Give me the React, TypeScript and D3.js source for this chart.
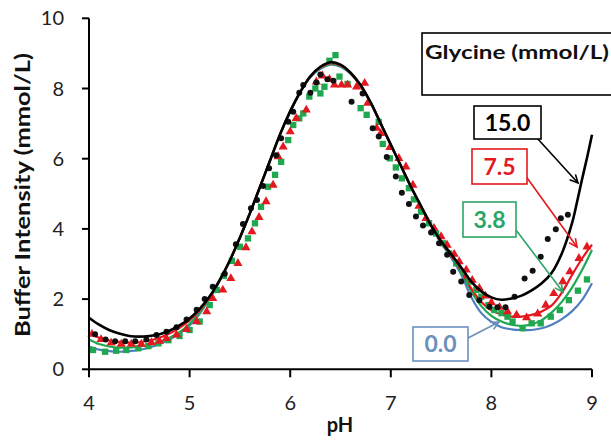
import React from "react";
import * as d3 from "d3";

// ---------- data ----------
const xTicks = [4, 5, 6, 7, 8, 9];
const yTicks = [0, 2, 4, 6, 8, 10];

// fitted curves [pH, buffer intensity]
const line150: [number, number][] = [
  [4.0, 1.47], [4.1, 1.27], [4.2, 1.12], [4.3, 1.02], [4.4, 0.95], [4.5, 0.93], [4.6, 0.95], [4.7, 1.0],
  [4.8, 1.1], [4.9, 1.25], [5.0, 1.45], [5.1, 1.72], [5.2, 2.08], [5.3, 2.55], [5.4, 3.1], [5.5, 3.75],
  [5.6, 4.45], [5.7, 5.2], [5.8, 5.95], [5.9, 6.7], [6.0, 7.35], [6.1, 7.9], [6.2, 8.35], [6.3, 8.62],
  [6.4, 8.75], [6.5, 8.68], [6.6, 8.45], [6.7, 8.1], [6.8, 7.6], [6.9, 7.0], [7.0, 6.4], [7.1, 5.8],
  [7.2, 5.2], [7.3, 4.65], [7.4, 4.1], [7.5, 3.65], [7.6, 3.28], [7.7, 2.9], [7.8, 2.5], [7.9, 2.22],
  [8.0, 2.05], [8.1, 1.98], [8.2, 2.02], [8.3, 2.1], [8.4, 2.25], [8.5, 2.45], [8.6, 2.75], [8.7, 3.3],
  [8.8, 4.15], [8.85, 4.75], [8.9, 5.4], [8.95, 6.02], [9.0, 6.68],
];
const line75: [number, number][] = [
  [4.0, 1.03], [4.1, 0.9], [4.2, 0.82], [4.3, 0.78], [4.4, 0.76], [4.5, 0.77], [4.6, 0.82], [4.7, 0.9],
  [4.8, 1.02], [4.9, 1.18], [5.0, 1.4], [5.1, 1.68], [5.2, 2.06], [5.3, 2.54], [5.4, 3.1], [5.5, 3.75],
  [5.6, 4.45], [5.7, 5.2], [5.8, 5.95], [5.9, 6.7], [6.0, 7.35], [6.1, 7.9], [6.2, 8.34], [6.3, 8.6],
  [6.4, 8.72], [6.5, 8.66], [6.6, 8.44], [6.7, 8.08], [6.8, 7.6], [6.9, 7.0], [7.0, 6.4], [7.1, 5.8],
  [7.2, 5.2], [7.3, 4.65], [7.4, 4.1], [7.5, 3.63], [7.6, 3.24], [7.7, 2.82], [7.8, 2.3], [7.9, 1.92],
  [8.0, 1.68], [8.1, 1.56], [8.2, 1.5], [8.3, 1.5], [8.4, 1.55], [8.5, 1.65], [8.6, 1.82], [8.7, 2.18],
  [8.8, 2.68], [8.9, 3.15], [9.0, 3.55],
];
const line38: [number, number][] = [
  [4.0, 0.85], [4.1, 0.72], [4.2, 0.65], [4.3, 0.62], [4.4, 0.62], [4.5, 0.65], [4.6, 0.7], [4.7, 0.78],
  [4.8, 0.9], [4.9, 1.06], [5.0, 1.3], [5.1, 1.62], [5.2, 2.04], [5.3, 2.53], [5.4, 3.1], [5.5, 3.75],
  [5.6, 4.45], [5.7, 5.2], [5.8, 5.95], [5.9, 6.7], [6.0, 7.35], [6.1, 7.9], [6.2, 8.33], [6.3, 8.58],
  [6.4, 8.7], [6.5, 8.64], [6.6, 8.43], [6.7, 8.07], [6.8, 7.6], [6.9, 7.0], [7.0, 6.4], [7.1, 5.8],
  [7.2, 5.2], [7.3, 4.65], [7.4, 4.1], [7.5, 3.62], [7.6, 3.22], [7.7, 2.78], [7.8, 2.22], [7.9, 1.8],
  [8.0, 1.52], [8.1, 1.36], [8.2, 1.27], [8.3, 1.24], [8.4, 1.28], [8.5, 1.4], [8.6, 1.62], [8.7, 1.92],
  [8.8, 2.32], [8.9, 2.82], [9.0, 3.4],
];
const line00: [number, number][] = [
  [4.0, 0.65], [4.1, 0.56], [4.2, 0.52], [4.3, 0.5], [4.4, 0.52], [4.5, 0.55], [4.6, 0.62], [4.7, 0.72],
  [4.8, 0.85], [4.9, 1.02], [5.0, 1.25], [5.1, 1.58], [5.2, 2.02], [5.3, 2.52], [5.4, 3.1], [5.5, 3.75],
  [5.6, 4.45], [5.7, 5.2], [5.8, 5.95], [5.9, 6.7], [6.0, 7.35], [6.1, 7.9], [6.2, 8.32], [6.3, 8.56],
  [6.4, 8.68], [6.5, 8.62], [6.6, 8.42], [6.7, 8.06], [6.8, 7.6], [6.9, 7.0], [7.0, 6.4], [7.1, 5.8],
  [7.2, 5.2], [7.3, 4.65], [7.4, 4.1], [7.5, 3.6], [7.6, 3.18], [7.7, 2.7], [7.8, 2.05], [7.9, 1.6],
  [8.0, 1.35], [8.1, 1.2], [8.2, 1.14], [8.3, 1.12], [8.4, 1.12], [8.5, 1.17], [8.6, 1.27], [8.7, 1.43],
  [8.8, 1.65], [8.9, 1.97], [9.0, 2.45],
];

// measured points
const dots150: [number, number][] = [
  [4.06, 1.0], [4.165, 0.85], [4.26, 0.8], [4.36, 0.8], [4.46, 0.8], [4.57, 0.85], [4.67, 0.98], [4.77, 1.07],
  [4.87, 1.2], [4.97, 1.42], [5.07, 1.7], [5.15, 2.0], [5.23, 2.35], [5.35, 2.72], [5.46, 3.56], [5.53, 4.14],
  [5.61, 4.59], [5.67, 4.82], [5.73, 5.22], [5.79, 5.73], [5.86, 6.1], [5.91, 6.58], [5.98, 7.05], [6.03, 7.34],
  [6.09, 7.88], [6.13, 8.1], [6.2, 7.88], [6.26, 8.17], [6.3, 8.4], [6.37, 8.26], [6.43, 8.22], [6.61, 7.62],
  [6.72, 7.86], [6.82, 6.87], [6.88, 6.63], [6.96, 6.05], [7.05, 5.49], [7.11, 5.03], [7.18, 4.71], [7.25, 4.35],
  [7.32, 4.1], [7.4, 3.9], [7.48, 3.59], [7.56, 3.26], [7.62, 2.78], [7.7, 2.5], [7.78, 2.12], [7.88, 1.97],
  [7.98, 1.78], [8.06, 1.77], [8.14, 1.77], [8.23, 2.07], [8.33, 2.59], [8.41, 2.81], [8.49, 3.21], [8.56, 3.71],
  [8.64, 3.99], [8.69, 4.3], [8.76, 4.4],
];
const tri75: [number, number][] = [
  [4.03, 1.0], [4.12, 0.85], [4.22, 0.75], [4.32, 0.72], [4.42, 0.72], [4.52, 0.72], [4.62, 0.76], [4.7, 0.8],
  [4.77, 0.88], [4.87, 0.98], [4.97, 1.14], [5.07, 1.36], [5.17, 1.64], [5.23, 2.02], [5.33, 2.26], [5.41, 2.59],
  [5.48, 3.02], [5.56, 3.47], [5.62, 3.92], [5.69, 4.33], [5.76, 4.78], [5.83, 5.25], [5.88, 6.06], [5.93, 6.34],
  [6.0, 6.77], [6.06, 7.15], [6.16, 7.39], [6.26, 8.19], [6.32, 8.36], [6.39, 8.26], [6.44, 8.1], [6.51, 8.1],
  [6.57, 8.1], [6.66, 8.05], [6.74, 8.15], [6.77, 7.58], [6.86, 6.87], [6.9, 6.72], [6.99, 6.32], [7.08, 6.01],
  [7.15, 5.77], [7.22, 5.25], [7.28, 4.65], [7.35, 4.3], [7.43, 4.02], [7.5, 3.78], [7.56, 3.54], [7.63, 3.28],
  [7.68, 3.07], [7.75, 2.83], [7.81, 2.54], [7.88, 2.31], [7.94, 2.09], [8.0, 1.9], [8.08, 1.77], [8.16, 1.64],
  [8.25, 1.55], [8.35, 1.47], [8.46, 1.58], [8.54, 1.83], [8.62, 2.16], [8.71, 2.5], [8.78, 2.78], [8.87, 3.16],
  [8.95, 3.49],
];
const sq38: [number, number][] = [
  [4.04, 0.55], [4.16, 0.5], [4.27, 0.53], [4.37, 0.55], [4.49, 0.6], [4.59, 0.66], [4.69, 0.74], [4.79, 0.83],
  [4.9, 0.95], [5.0, 1.12], [5.1, 1.36], [5.2, 1.83], [5.27, 2.26], [5.34, 2.66], [5.42, 3.09], [5.5, 3.49],
  [5.58, 3.73], [5.65, 4.16], [5.71, 4.63], [5.78, 5.2], [5.85, 5.54], [5.91, 5.91], [5.98, 6.53], [6.03, 6.96],
  [6.09, 7.15], [6.13, 7.29], [6.19, 7.77], [6.25, 8.0], [6.3, 7.86], [6.34, 8.05], [6.39, 8.79], [6.45, 8.95],
  [6.49, 8.34], [6.57, 8.13], [6.7, 7.44], [6.76, 7.25], [6.88, 7.05], [6.92, 6.42], [6.99, 6.01], [7.05, 5.75],
  [7.11, 5.44], [7.18, 5.16], [7.23, 4.84], [7.3, 4.49], [7.38, 4.16], [7.45, 3.87], [7.52, 3.59], [7.58, 3.3],
  [7.65, 3.02], [7.72, 2.78], [7.78, 2.5], [7.85, 2.26], [7.9, 2.07], [7.97, 1.83], [8.03, 1.69], [8.1, 1.6],
  [8.16, 1.5], [8.21, 1.36], [8.31, 1.17], [8.4, 1.31], [8.49, 1.31], [8.59, 1.5], [8.68, 1.69], [8.77, 1.97],
  [8.86, 2.24], [8.95, 2.56],
];

const labelNames = ["15.0", "7.5", "3.8", "0.0"];

// ---------- layout ----------
const W = 611;
const H = 441;
const x = d3.scaleLinear().domain([4, 9]).range([89, 592]);
const y = d3.scaleLinear().domain([0, 10]).range([369.3, 18.3]);

const BLACK = "#000000";
const RED = "#e3191f";
const GREEN = "#1fa84f";
const BLUE = "#4f7fbf";
const BLUE_LABEL = "#6a90bd";
const GREEN_LABEL = "#2aa566";

const lineGen = d3
  .line<[number, number]>()
  .x((d) => x(d[0]))
  .y((d) => y(d[1]))
  .curve(d3.curveCatmullRom.alpha(0.5));

const triPath = d3.symbol().type(d3.symbolTriangle).size(36)() as string;
const sqPath = d3.symbol().type(d3.symbolSquare).size(40)() as string;

const FONT = "Lato, 'Open Sans', sans-serif";

function Arrow({ x1, y1, x2, y2, color }: { x1: number; y1: number; x2: number; y2: number; color: string }) {
  const ang = Math.atan2(y2 - y1, x2 - x1);
  const len = 9;
  const spread = 0.45;
  const ax1 = x2 - len * Math.cos(ang - spread);
  const ay1 = y2 - len * Math.sin(ang - spread);
  const ax2 = x2 - len * Math.cos(ang + spread);
  const ay2 = y2 - len * Math.sin(ang + spread);
  return (
    <g stroke={color} strokeWidth={1.6} fill="none">
      <line x1={x1} y1={y1} x2={x2} y2={y2} />
      <polyline points={`${ax1},${ay1} ${x2},${y2} ${ax2},${ay2}`} />
    </g>
  );
}

const boxes = [
  { name: labelNames[0], x0: 474, y0: 106, w: 67, h: 33, color: BLACK, text: BLACK, arrow: [537, 138, 578, 183] },
  { name: labelNames[1], x0: 472, y0: 149, w: 55, h: 35, color: RED, text: RED, arrow: [525, 175, 577, 247] },
  { name: labelNames[2], x0: 463, y0: 202, w: 53, h: 35, color: GREEN_LABEL, text: GREEN_LABEL, arrow: [516, 230, 563, 292] },
  { name: labelNames[3], x0: 413, y0: 327, w: 55, h: 34, color: BLUE_LABEL, text: BLUE_LABEL, arrow: [468, 338, 499, 322] },
];

export default function App() {
  return (
    <svg
      width={W}
      height={H}
      viewBox={`0 0 ${W} ${H}`}
      style={{ position: "absolute", left: 0, top: 0, background: "#fff" }}
      fontFamily={FONT}
    >
      <rect x={0} y={0} width={W} height={H} fill="#fff" />

      {/* curves */}
      <path d={lineGen(line00) || ""} fill="none" stroke={BLUE} strokeWidth={2.2} />
      <path d={lineGen(line38) || ""} fill="none" stroke={GREEN} strokeWidth={2.2} />
      <path d={lineGen(line75) || ""} fill="none" stroke={RED} strokeWidth={2.2} />

      {/* markers */}
      {sq38.map((d, i) => (
        <path key={"s" + i} d={sqPath} transform={`translate(${x(d[0])},${y(d[1])})`} fill={GREEN} />
      ))}
      {tri75.map((d, i) => (
        <path key={"t" + i} d={triPath} transform={`translate(${x(d[0])},${y(d[1])})`} fill={RED} />
      ))}
      {dots150.map((d, i) => (
        <circle key={"c" + i} cx={x(d[0])} cy={y(d[1])} r={3} fill="#111" />
      ))}

      <path d={lineGen(line150) || ""} fill="none" stroke={BLACK} strokeWidth={2.6} />

      {/* axes */}
      <g stroke="#000" strokeWidth={2}>
        <line x1={x(4)} y1={y(10)} x2={x(4)} y2={y(0)} />
        <line x1={x(4)} y1={y(0)} x2={x(9)} y2={y(0)} />
        {yTicks.map((t) => (
          <line key={"yt" + t} x1={x(4) - 7} x2={x(4)} y1={y(t)} y2={y(t)} />
        ))}
        {xTicks.map((t) => (
          <line key={"xt" + t} x1={x(t)} x2={x(t)} y1={y(0)} y2={y(0) + 8} />
        ))}
      </g>
      {yTicks.map((t) => (
        <text key={"yl" + t} x={64} y={y(t) + 7} textAnchor="end" fontSize={20} fill="#222">
          {t}
        </text>
      ))}
      {xTicks.map((t) => (
        <text key={"xl" + t} x={x(t)} y={410} textAnchor="middle" fontSize={20} fill="#222">
          {t}
        </text>
      ))}
      <text x={340} y={432} textAnchor="middle" fontSize={20} fontWeight="bold" fill="#111">
        pH
      </text>
      <text
        transform="translate(30,195) rotate(-90)"
        textAnchor="middle"
        fontSize={20}
        fontWeight="bold"
        fill="#111"
        textLength={284}
        lengthAdjust="spacingAndGlyphs"
      >
        Buffer Intensity (mmol/L)
      </text>

      {/* legend title box */}
      <rect x={422} y={33} width={200} height={62} fill="#fff" stroke="#000" strokeWidth={1.6} />
      <text x={425} y={59} fontSize={19} fontWeight="bold" fill="#111" textLength={184} lengthAdjust="spacingAndGlyphs">
        Glycine (mmol/L)
      </text>

      {/* series labels */}
      {boxes.map((b) => (
        <g key={b.name}>
          <Arrow x1={b.arrow[0]} y1={b.arrow[1]} x2={b.arrow[2]} y2={b.arrow[3]} color={b.color} />
          <rect x={b.x0} y={b.y0} width={b.w} height={b.h} fill="#fff" stroke={b.color} strokeWidth={1.6} />
          <text
            x={b.x0 + b.w / 2}
            y={b.y0 + b.h / 2 + 8}
            textAnchor="middle"
            fontSize={23}
            fontWeight="bold"
            fill={b.text}
          >
            {b.name}
          </text>
        </g>
      ))}
    </svg>
  );
}
